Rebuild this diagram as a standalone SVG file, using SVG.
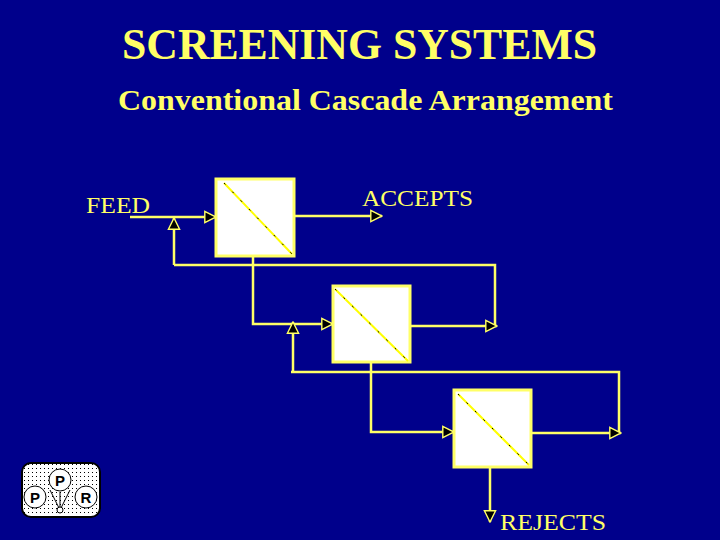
<svg xmlns="http://www.w3.org/2000/svg" width="720" height="540" viewBox="0 0 720 540">
<defs>
<pattern id="dots" width="4" height="4" patternUnits="userSpaceOnUse"><rect width="4" height="4" fill="#fff"/><rect width="1" height="1" fill="#000"/></pattern>
<marker id="ar" viewBox="0 0 10 10" refX="9" refY="5" markerWidth="14" markerHeight="14" markerUnits="userSpaceOnUse" orient="auto"><path d="M1,1 L9,5 L1,9 Z" fill="#000" stroke="#ffff66" stroke-width="1"/></marker>
</defs>
<style>
.t{font-family:"Liberation Serif",serif;fill:#ffff66}
.box{fill:#fff;stroke:#ffff66;stroke-width:3}
.dg{stroke:#ffff00;stroke-width:2}
.dd{stroke:#000;stroke-width:1;stroke-dasharray:2 10}
.ln{fill:none;stroke:#ffff66;stroke-width:2.5}
</style>
<rect width="720" height="540" fill="#00008b"/>
<text class="t" x="122" y="59" font-size="44" font-weight="bold" textLength="475" lengthAdjust="spacingAndGlyphs">SCREENING SYSTEMS</text>
<text class="t" x="118" y="110" font-size="29" font-weight="bold" textLength="495" lengthAdjust="spacingAndGlyphs">Conventional Cascade Arrangement</text>
<text class="t" x="86" y="213" font-size="23" textLength="64" lengthAdjust="spacingAndGlyphs">FEED</text>
<text class="t" x="362" y="206" font-size="23" textLength="111" lengthAdjust="spacingAndGlyphs">ACCEPTS</text>
<text class="t" x="500" y="530" font-size="23" textLength="106" lengthAdjust="spacingAndGlyphs">REJECTS</text>
<g id="connectors">
<path class="ln" d="M130,217 H216" marker-end="url(#ar)"/>
<path class="ln" d="M174,265 V218" marker-end="url(#ar)"/>
<path class="ln" d="M174,265 H495 V326"/>
<path class="ln" d="M294,216 H382" marker-end="url(#ar)"/>
<path class="ln" d="M253,256 V324 H333" marker-end="url(#ar)"/>
<path class="ln" d="M410,326 H497" marker-end="url(#ar)"/>
<path class="ln" d="M293,372 V322" marker-end="url(#ar)"/>
<path class="ln" d="M291,372 H619 V433"/>
<path class="ln" d="M531,433 H621" marker-end="url(#ar)"/>
<path class="ln" d="M371,362 V432 H454" marker-end="url(#ar)"/>
<path class="ln" d="M490,467 V522" marker-end="url(#ar)"/>
</g>
<g id="screen1"><rect class="box" x="216" y="179" width="78" height="77"/><line class="dg" x1="224" y1="183" x2="292" y2="254"/><line class="dd" x1="224" y1="183" x2="292" y2="254"/></g>
<g id="screen2"><rect class="box" x="333" y="286" width="77" height="76"/><line class="dg" x1="335" y1="289" x2="408" y2="361"/><line class="dd" x1="335" y1="289" x2="408" y2="361"/></g>
<g id="screen3"><rect class="box" x="454" y="390" width="77" height="77"/><line class="dg" x1="458" y1="394" x2="529" y2="465"/><line class="dd" x1="458" y1="394" x2="529" y2="465"/></g>
<g id="logo" font-family="Liberation Sans,sans-serif" font-weight="bold" font-size="15" text-anchor="middle">
<rect x="22" y="463" width="78" height="54" rx="9" fill="url(#dots)" stroke="#000" stroke-width="2"/>
<path d="M50,490 L60,510 L70,490 M60,492 V510" stroke="#000" fill="none"/>
<circle cx="35" cy="497" r="11" fill="#fff" stroke="#000"/><text x="35" y="503">P</text>
<circle cx="60" cy="480" r="11" fill="#fff" stroke="#000"/><text x="60" y="486">P</text>
<circle cx="86" cy="497" r="11" fill="#fff" stroke="#000"/><text x="86" y="503">R</text>
<circle cx="60" cy="510" r="3" fill="#fff" stroke="#000"/>
</g>
</svg>
